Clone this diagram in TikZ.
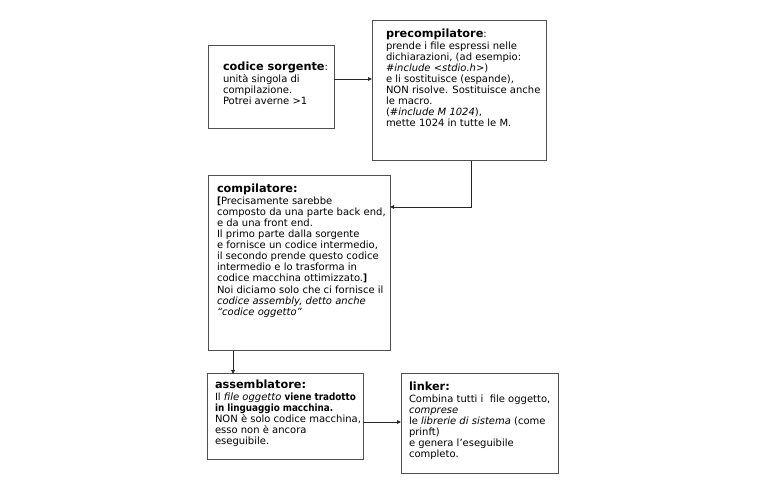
\documentclass[tikz,border=0pt]{standalone}
\usepackage{fontspec}
\setmainfont{DejaVu Sans}[BoldFeatures={FakeStretch=0.88}]
\newfontfamily\ttlfont{DejaVu Sans}
\usetikzlibrary{arrows.meta}
\definecolor{boxgray}{HTML}{505050}
\newcommand{\ttl}[1]{{\ttlfont\fontsize{11.3}{11}\selectfont\bfseries #1}}
\tikzset{
  box/.style={draw=boxgray, line width=1pt, anchor=north west, inner sep=0pt, outer sep=0pt},
  conn/.style={draw=black!85, line width=0.9pt, -{Triangle[length=4pt,width=3.5pt]}},
}
\newcommand{\boxtext}[5]{% w h padx pady text
  \begin{minipage}[c][#2pt][t]{#1pt}\vspace*{#4pt}\hspace*{#3pt}\begin{minipage}[t]{\dimexpr #1pt-#3pt\relax}\fontsize{10}{11.1}\selectfont\lineskiplimit=-20pt\raggedright #5\end{minipage}\end{minipage}}
\begin{document}
\begin{tikzpicture}[x=1pt,y=-1pt]
\useasboundingbox (0,0) rectangle (777,494);
\node[box] (src) at (208,46) {\boxtext{126}{83}{15}{16}{\ttl{codice sorgente}:\\[0.6pt]
unità singola di\\compilazione.\\Potrei averne >1}};
\node[box] (pre) at (372,21) {\boxtext{174}{140}{14}{8}{\ttl{precompilatore}:\\[0.6pt]
prende i file espressi nelle\\dichiarazioni, (ad esempio:\\\textit{\#include <stdio.h>})\\e li sostituisce (espande),\\NON risolve. Sostituisce anche\\le macro.\\(\textit{\#include M 1024}),\\mette 1024 in tutte le M.}};
\node[box] (comp) at (208,176) {\boxtext{182}{175}{9}{8}{\ttl{compilatore:}\\[0.6pt]
\textbf{[}Precisamente sarebbe\\composto da una parte back end,\\e da una front end.\\Il primo parte dalla sorgente\\e fornisce un codice intermedio,\\il secondo prende questo codice\\intermedio e lo trasforma in\\codice macchina ottimizzato.\textbf{]}\\Noi diciamo solo che ci fornisce il\\\textit{codice assembly, detto anche}\\\textit{“codice oggetto”}}};
\node[box] (asm) at (207,374) {\boxtext{156}{85}{8}{6}{\ttl{assemblatore:}\\[0.6pt]
Il \textit{file oggetto} \textbf{viene tradotto}\\\textbf{in linguaggio macchina.}\\NON è solo codice macchina,\\esso non è ancora\\eseguibile.}};
\node[box] (lnk) at (401,374) {\boxtext{157}{99}{8}{8}{\ttl{linker:}\\[0.6pt]
Combina tutti i\ \ file oggetto,\\\textit{comprese}\\le \textit{librerie di sistema} (come\\prinft)\\e genera l'eseguibile\\completo.}};
\draw[conn] (src.east |- 0,79) -- (pre.west |- 0,79);
\draw[conn] (pre.south -| 471,0) |- (comp.east |- 0,207);
\draw[conn] (comp.south -| 233,0) -- (asm.north -| 233,0);
\draw[conn] (asm.east |- 0,422) -- (lnk.west |- 0,422);
\end{tikzpicture}
\end{document}
